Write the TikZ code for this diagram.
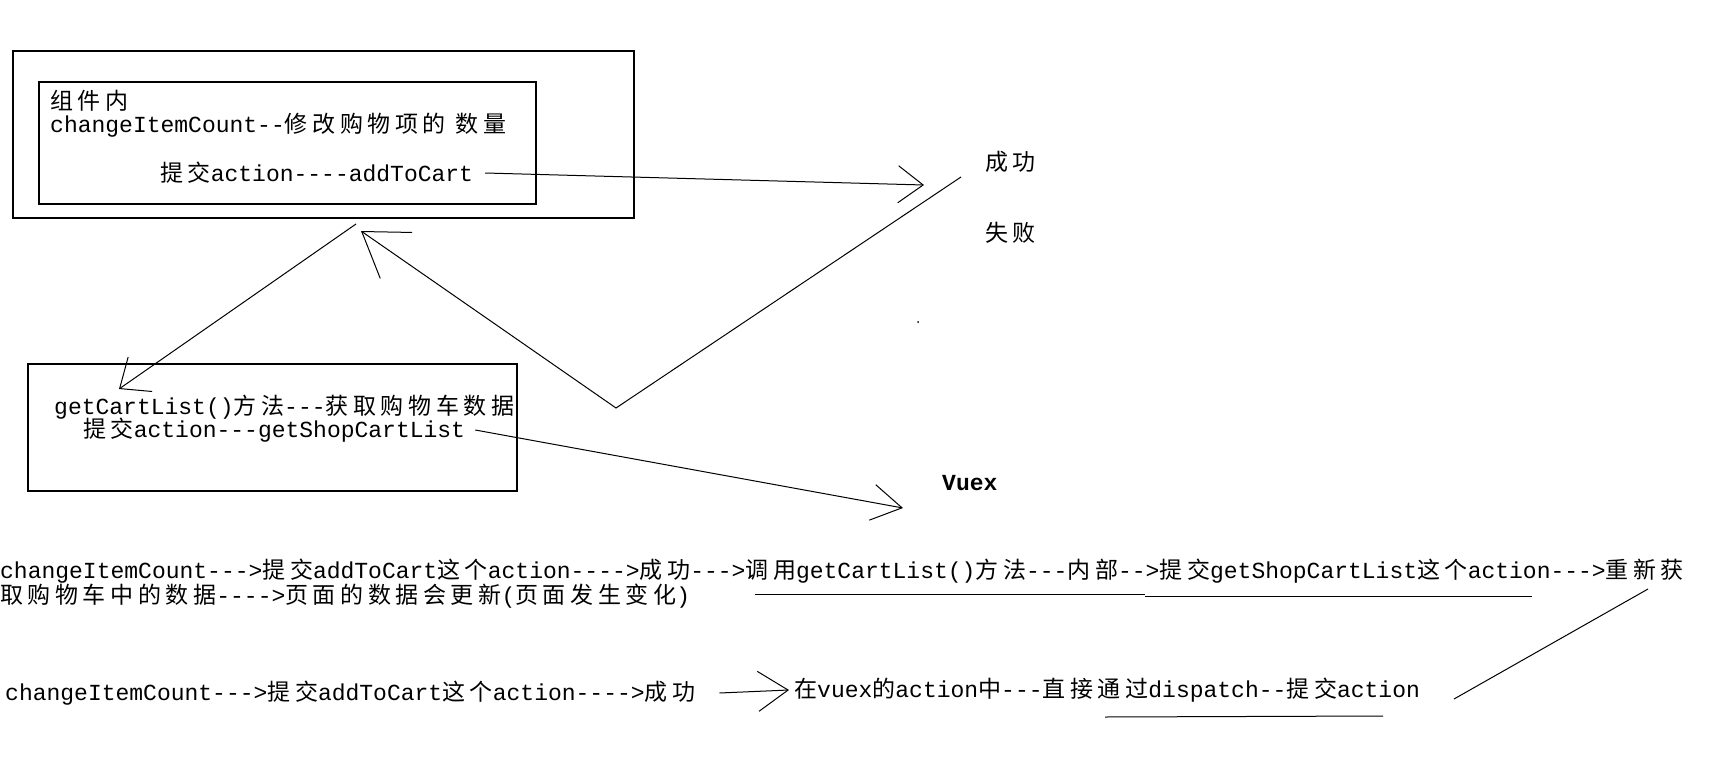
\documentclass[tikz,border=0pt]{standalone}
\usepackage{fontspec}
\setmainfont{Liberation Mono}[Ligatures=TeXOff]
\newfontfamily\cjkfont[LetterSpace=20]{Noto Sans CJK SC}
\usetikzlibrary{arrows.meta}
\newcommand{\zh}[1]{{\cjkfont #1}}
\tikzset{
    frame/.style={draw, line width=1.2pt, inner sep=0pt},
    txt/.style={anchor=west, inner sep=0pt, font=\fontsize{23}{25}\selectfont},
    link/.style={line width=1pt},
    barb/.style 2 args={link, -{Straight Barb[length=#1, width=#2, line width=1pt]}},
}

\begin{document}
\begin{tikzpicture}[x=1pt, y=-1pt]
    \useasboundingbox (0,0) rectangle (1715,768);

    % boxes
    \node[frame, minimum width=621pt, minimum height=167pt] (outer) at (323.5,134.5) {};
    \node[frame, minimum width=497pt, minimum height=122pt] (inner) at (287.5,143) {};
    \node[frame, minimum width=489pt, minimum height=127pt] (cartbox) at (272.5,427.5) {};

    % texts in the boxes
    \node[txt] (comp) at (50,101) {\zh{组件内}};
    \node[txt] (count) at (50,125) {changeItemCount--\zh{修改购物项的 数量}};
    \node[txt] (add) at (160,173) {\zh{提交}action----addToCart};
    \node[txt] (getlist) at (54,407) {getCartList()\zh{方法}---\zh{获取购物车数据}};
    \node[txt] (getshop) at (83,430) {\zh{提交}action---getShopCartList};

    % results
    \node[txt] (succ) at (985,162) {\zh{成功}};
    \node[txt] (fail) at (985,233) {\zh{失败}};
    \node[txt, font=\fontsize{23}{25}\selectfont\bfseries] (vuex) at (942,483) {Vuex};

    % flow description
    \node[txt] (flowA) at (0,571) {changeItemCount---\textgreater\zh{提交}addToCart\zh{这个}action----\textgreater\zh{成功}---\textgreater\zh{调用}getCartList()\zh{方法}---\zh{内部}--\textgreater\zh{提交}getShopCartList\zh{这个}action---\textgreater\zh{重新获}};
    \node[txt] (flowB) at (0,596) {\zh{取购物车中的数据}----\textgreater\zh{页面的数据会更新}(\zh{页面发生变化})};
    \node[txt] (flowC) at (5,693) {changeItemCount---\textgreater\zh{提交}addToCart\zh{这个}action----\textgreater\zh{成功}};
    \node[txt] (invuex) at (794,690) {\zh{在}vuex\zh{的}action\zh{中}---\zh{直接通过}dispatch--\zh{提交}action};

    % connectors
    \coordinate (succtip) at (924,185);
    \coordinate (vtop) at (961,177);
    \coordinate (vlow) at (616,408);
    \coordinate (backtip) at (361,231);
    \coordinate (fetchfrom) at (356,224);
    \coordinate (fetchtip) at (119,389);
    \coordinate (vuextip) at (903,508);

    \draw[barb={25pt}{37pt}] ([xshift=12pt]add.east) -- (succtip);
    \draw[barb={42pt}{56pt}] (vtop) -- (vlow) -- (backtip);
    \draw[barb={25pt}{42pt}] (fetchfrom) -- (fetchtip);
    \draw[barb={30pt}{36pt}] ([xshift=10pt]getshop.east) -- (vuextip);
    \draw[barb={30pt}{40pt}] ([xshift=24pt]flowC.east) -- ([xshift=-5pt]invuex.west);

    % underlines
    \draw[link] (755,594) -- (1145,594);
    \draw[link] (1145,596) -- (1532,596);
    \draw[link] (1648,589) -- (1454,699);
    \draw[link] (1105,717) -- (1383,716);
    \fill (918,322) circle (1pt);
\end{tikzpicture}
\end{document}
